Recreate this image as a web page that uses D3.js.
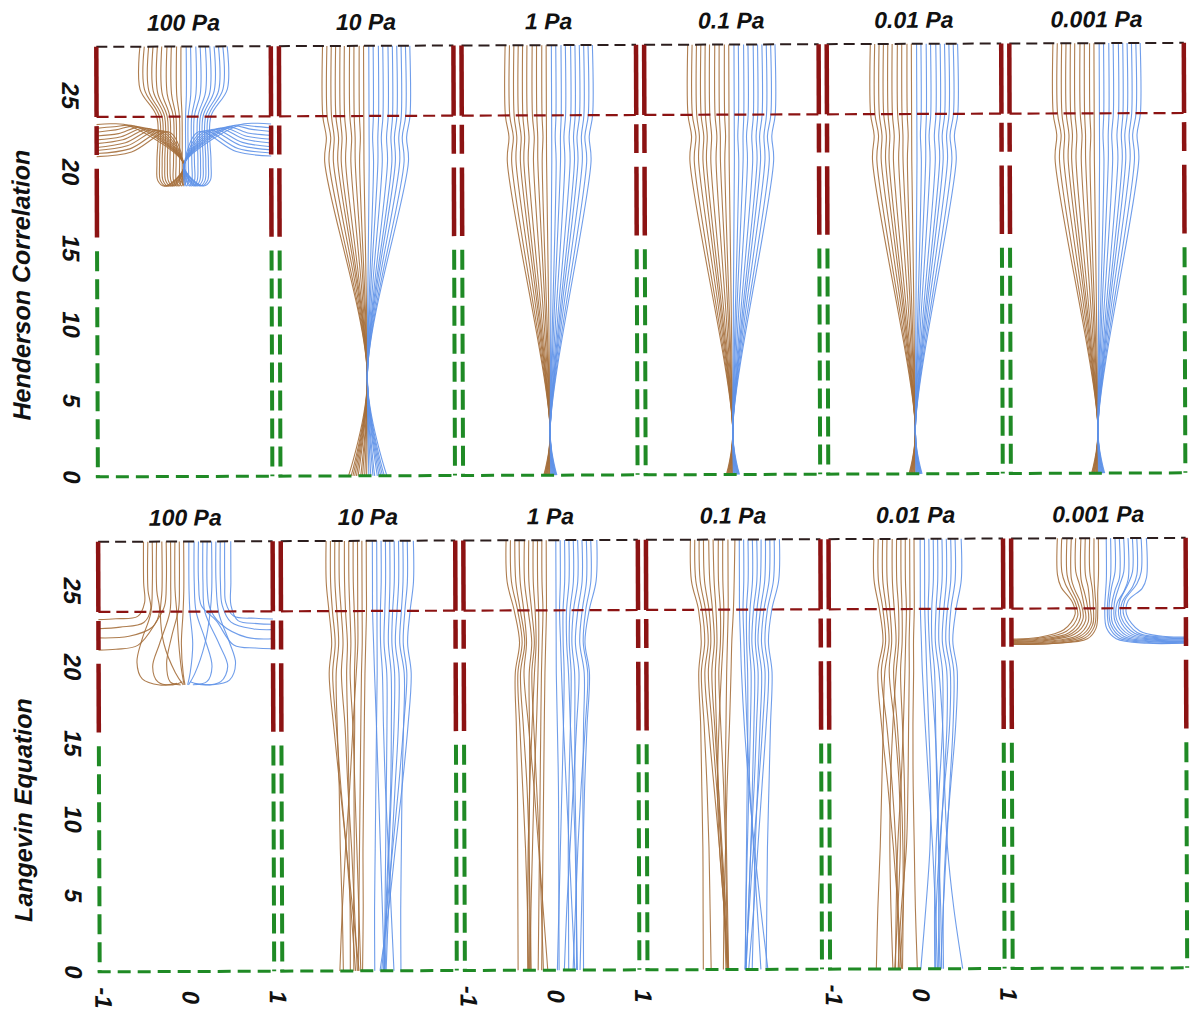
<!DOCTYPE html>
<html lang="en">
<head>
<meta charset="UTF-8">
<script src="https://d3js.org/d3.v7.min.js"></script>
<title>Particle trajectories</title>
<style>
  body { margin: 0; background: #fff; }
  text { font-family: "Liberation Sans", Arial, sans-serif; font-weight: bold; font-style: italic; fill: #111; }
</style>
</head>
<body>
<div id="chart"></div>
<script>
// panel titles and axis labels
var stresses = ["100 Pa", "10 Pa", "1 Pa", "0.1 Pa", "0.01 Pa", "0.001 Pa"];
var rowLabels = ["Henderson Correlation", "Langevin Equation"];
var yTicks = [0, 5, 10, 15, 20, 25];
var xTicks = [-1, 0, 1];
var xTickCols = [0, 2, 4];

// channel geometry in y units
var yTop = 28.2, yBox = 23.6, yGreen = 14.8;
var redDashes = [[23.0, 21.1], [20.2, 15.7]];

// Henderson 100 Pa, flat [x, y, x, y, ...]
var hen100Brown = [
  [-0.50,28.2, -0.50,25.4, -0.31,23.6, -0.31,20.6, -0.30,19.4, -0.22,19.05, 0,20.4, -0.62,23.0, -0.82,23.15, -1,23.1],
  [-0.45,28.2, -0.45,25.4, -0.28,23.6, -0.28,20.6, -0.27,19.4, -0.20,19.05, 0,20.4, -0.57,23.0, -0.80,22.95, -1,22.85],
  [-0.40,28.2, -0.40,25.3, -0.25,23.6, -0.25,20.6, -0.24,19.4, -0.18,19.05, 0,20.4, -0.52,22.95, -0.78,22.75, -1,22.6],
  [-0.35,28.2, -0.35,25.3, -0.22,23.6, -0.22,20.6, -0.21,19.4, -0.15,19.05, 0,20.4, -0.47,22.9, -0.75,22.5, -1,22.35],
  [-0.30,28.2, -0.30,25.2, -0.19,23.6, -0.19,20.6, -0.18,19.4, -0.13,19.05, 0,20.4, -0.42,22.85, -0.72,22.3, -1,22.1],
  [-0.25,28.2, -0.25,25.2, -0.16,23.6, -0.16,20.6, -0.15,19.4, -0.11,19.05, 0,20.4, -0.37,22.8, -0.70,22.1, -1,21.85],
  [-0.19,28.2, -0.19,25.1, -0.12,23.6, -0.12,20.6, -0.12,19.4, -0.08,19.05, 0,20.4, -0.32,22.75, -0.67,21.9, -1,21.6],
  [-0.14,28.2, -0.14,25.1, -0.09,23.6, -0.09,20.6, -0.09,19.4, -0.06,19.05, 0,20.4, -0.27,22.7, -0.65,21.7, -1,21.4],
  [-0.08,28.2, -0.08,25.0, -0.05,23.6, -0.05,20.6, -0.05,19.4, -0.03,19.05, 0,20.4, -0.22,22.65, -0.62,21.5, -1,21.2],
  [-0.03,28.2, -0.03,25.0, -0.02,23.6, -0.02,20.6, -0.02,19.4, -0.01,19.05, 0,20.4, -0.17,22.6, -0.60,21.3, -1,21.0]
];
var hen100Blue = [
  [0.03,28.2, 0.03,25.0, 0.02,23.6, 0.02,20.6, 0.02,19.4, 0.01,19.05, 0,20.4, 0.17,22.6, 0.60,21.3, 1,21.0],
  [0.08,28.2, 0.08,25.0, 0.05,23.6, 0.05,20.6, 0.05,19.4, 0.03,19.05, 0,20.4, 0.22,22.65, 0.62,21.5, 1,21.2],
  [0.14,28.2, 0.14,25.1, 0.09,23.6, 0.09,20.6, 0.09,19.4, 0.06,19.05, 0,20.4, 0.27,22.7, 0.65,21.7, 1,21.4],
  [0.19,28.2, 0.19,25.1, 0.12,23.6, 0.12,20.6, 0.12,19.4, 0.08,19.05, 0,20.4, 0.32,22.75, 0.67,21.9, 1,21.6],
  [0.25,28.2, 0.25,25.2, 0.16,23.6, 0.16,20.6, 0.15,19.4, 0.11,19.05, 0,20.4, 0.37,22.8, 0.70,22.1, 1,21.85],
  [0.30,28.2, 0.30,25.2, 0.19,23.6, 0.19,20.6, 0.18,19.4, 0.13,19.05, 0,20.4, 0.42,22.85, 0.72,22.3, 1,22.1],
  [0.35,28.2, 0.35,25.3, 0.22,23.6, 0.22,20.6, 0.21,19.4, 0.15,19.05, 0,20.4, 0.47,22.9, 0.75,22.5, 1,22.35],
  [0.40,28.2, 0.40,25.3, 0.25,23.6, 0.25,20.6, 0.24,19.4, 0.18,19.05, 0,20.4, 0.52,22.95, 0.78,22.75, 1,22.6],
  [0.45,28.2, 0.45,25.4, 0.28,23.6, 0.28,20.6, 0.27,19.4, 0.20,19.05, 0,20.4, 0.57,23.0, 0.80,22.95, 1,22.85],
  [0.50,28.2, 0.50,25.4, 0.31,23.6, 0.31,20.6, 0.30,19.4, 0.22,19.05, 0,20.4, 0.62,23.0, 0.82,23.15, 1,23.1]
];

// Henderson fans: x read at fixed y levels
var henLevels10 = [28.2, 23.6, 22.2, 20.6, 6.4, 0];
var henLevelsLow = [28.2, 23.6, 22.2, 20.6, 2.8, 0];
var hen10Brown = [
  [-0.50,-0.50,-0.46,-0.48,0,-0.22], [-0.45,-0.45,-0.41,-0.43,0,-0.19],
  [-0.40,-0.40,-0.37,-0.38,0,-0.17], [-0.35,-0.35,-0.32,-0.33,0,-0.15],
  [-0.30,-0.30,-0.28,-0.29,0,-0.13], [-0.25,-0.25,-0.23,-0.24,0,-0.11],
  [-0.19,-0.19,-0.17,-0.18,0,-0.08], [-0.14,-0.14,-0.13,-0.13,0,-0.06],
  [-0.08,-0.08,-0.07,-0.08,0,-0.035], [-0.03,-0.03,-0.03,-0.03,0,-0.013]
];
var hen10Blue = [
  [0.03,0.03,0.03,0.03,0,0.013], [0.08,0.08,0.07,0.08,0,0.035],
  [0.14,0.14,0.13,0.13,0,0.06], [0.19,0.19,0.17,0.18,0,0.08],
  [0.25,0.25,0.23,0.24,0,0.11], [0.30,0.30,0.28,0.29,0,0.13],
  [0.35,0.35,0.32,0.33,0,0.15], [0.40,0.40,0.37,0.38,0,0.17],
  [0.45,0.45,0.41,0.43,0,0.19], [0.50,0.50,0.46,0.48,0,0.22]
];
var henLowBrown = [
  [-0.50,-0.50,-0.46,-0.48,0,-0.075], [-0.45,-0.45,-0.41,-0.43,0,-0.067],
  [-0.40,-0.40,-0.37,-0.38,0,-0.059], [-0.35,-0.35,-0.32,-0.33,0,-0.052],
  [-0.30,-0.30,-0.28,-0.29,0,-0.045], [-0.25,-0.25,-0.23,-0.24,0,-0.037],
  [-0.19,-0.19,-0.17,-0.18,0,-0.028], [-0.14,-0.14,-0.13,-0.13,0,-0.020],
  [-0.08,-0.08,-0.07,-0.08,0,-0.012], [-0.03,-0.03,-0.03,-0.03,0,-0.005]
];
var henLowBlue = [
  [0.03,0.03,0.03,0.03,0,0.005], [0.08,0.08,0.07,0.08,0,0.012],
  [0.14,0.14,0.13,0.13,0,0.020], [0.19,0.19,0.17,0.18,0,0.028],
  [0.25,0.25,0.23,0.24,0,0.037], [0.30,0.30,0.28,0.29,0,0.045],
  [0.35,0.35,0.32,0.33,0,0.052], [0.40,0.40,0.37,0.38,0,0.059],
  [0.45,0.45,0.41,0.43,0,0.067], [0.50,0.50,0.46,0.48,0,0.075]
];

// Langevin 10 Pa .. 0.01 Pa: x read at fixed y levels
var lanLevels = [28.2, 25.5, 23.6, 21.5, 19.5, 16, 12, 8, 4, 0];
var lan10Brown = [
  [-0.48,-0.48,-0.45,-0.42,-0.45,-0.40,-0.33,-0.26,-0.19,-0.12],
  [-0.43,-0.43,-0.41,-0.38,-0.41,-0.37,-0.32,-0.26,-0.21,-0.16],
  [-0.38,-0.38,-0.36,-0.34,-0.37,-0.36,-0.34,-0.33,-0.31,-0.30],
  [-0.33,-0.33,-0.31,-0.29,-0.31,-0.27,-0.24,-0.20,-0.17,-0.14],
  [-0.27,-0.27,-0.26,-0.24,-0.25,-0.24,-0.23,-0.23,-0.22,-0.22],
  [-0.22,-0.22,-0.21,-0.20,-0.21,-0.18,-0.16,-0.14,-0.12,-0.10],
  [-0.17,-0.17,-0.16,-0.15,-0.16,-0.16,-0.17,-0.17,-0.18,-0.18],
  [-0.12,-0.12,-0.12,-0.12,-0.14,-0.18,-0.22,-0.27,-0.31,-0.34],
  [-0.07,-0.07,-0.07,-0.07,-0.08,-0.09,-0.10,-0.11,-0.12,-0.13],
  [-0.02,-0.02,-0.02,-0.03,-0.04,-0.05,-0.06,-0.07,-0.07,-0.08]
];
var lan10Blue = [
  [0.05,0.05,0.05,0.06,0.07,0.09,0.11,0.13,0.15,0.17],
  [0.10,0.10,0.10,0.10,0.10,0.09,0.08,0.07,0.06,0.06],
  [0.15,0.15,0.14,0.14,0.16,0.17,0.19,0.22,0.25,0.28],
  [0.20,0.20,0.19,0.18,0.21,0.21,0.20,0.19,0.18,0.17],
  [0.25,0.25,0.24,0.23,0.26,0.26,0.25,0.22,0.19,0.16],
  [0.30,0.30,0.28,0.27,0.30,0.29,0.26,0.23,0.20,0.18],
  [0.35,0.35,0.33,0.31,0.35,0.34,0.30,0.26,0.22,0.19],
  [0.40,0.40,0.38,0.36,0.41,0.40,0.38,0.37,0.36,0.36],
  [0.45,0.45,0.42,0.40,0.44,0.40,0.34,0.27,0.20,0.14],
  [0.52,0.52,0.48,0.45,0.49,0.45,0.38,0.30,0.22,0.12]
];
var lan1Brown = [
  [-0.51,-0.50,-0.42,-0.36,-0.41,-0.40,-0.39,-0.39,-0.39,-0.39],
  [-0.46,-0.45,-0.38,-0.33,-0.38,-0.36,-0.33,-0.30,-0.28,-0.27],
  [-0.41,-0.40,-0.35,-0.30,-0.35,-0.32,-0.28,-0.26,-0.25,-0.24],
  [-0.36,-0.35,-0.31,-0.28,-0.31,-0.26,-0.20,-0.15,-0.10,-0.05],
  [-0.30,-0.30,-0.26,-0.22,-0.25,-0.25,-0.25,-0.26,-0.26,-0.26],
  [-0.25,-0.25,-0.22,-0.19,-0.22,-0.20,-0.17,-0.14,-0.12,-0.10],
  [-0.20,-0.20,-0.18,-0.17,-0.19,-0.22,-0.25,-0.27,-0.28,-0.28],
  [-0.15,-0.15,-0.14,-0.14,-0.15,-0.17,-0.20,-0.22,-0.24,-0.25],
  [-0.10,-0.10,-0.09,-0.10,-0.11,-0.12,-0.13,-0.14,-0.15,-0.16],
  [-0.05,-0.05,-0.05,-0.06,-0.07,-0.08,-0.09,-0.10,-0.11,-0.12]
];
var lan1Blue = [
  [0.06,0.06,0.06,0.06,0.06,0.07,0.08,0.08,0.08,0.08],
  [0.11,0.11,0.10,0.11,0.12,0.14,0.17,0.20,0.23,0.26],
  [0.16,0.16,0.14,0.14,0.15,0.14,0.12,0.10,0.08,0.06],
  [0.21,0.21,0.18,0.18,0.20,0.22,0.25,0.27,0.28,0.29],
  [0.26,0.26,0.22,0.21,0.23,0.22,0.20,0.19,0.19,0.19],
  [0.31,0.31,0.26,0.24,0.27,0.27,0.27,0.28,0.28,0.28],
  [0.36,0.36,0.31,0.28,0.32,0.29,0.25,0.21,0.17,0.14],
  [0.41,0.41,0.36,0.33,0.38,0.37,0.36,0.36,0.36,0.36],
  [0.46,0.46,0.40,0.37,0.42,0.39,0.34,0.30,0.27,0.24],
  [0.53,0.52,0.44,0.39,0.44,0.41,0.38,0.36,0.34,0.32]
];
var lan01Brown = [
  [-0.49,-0.48,-0.40,-0.37,-0.40,-0.38,-0.37,-0.36,-0.36,-0.36],
  [-0.44,-0.43,-0.36,-0.33,-0.37,-0.34,-0.31,-0.29,-0.28,-0.27],
  [-0.39,-0.38,-0.32,-0.29,-0.33,-0.29,-0.23,-0.17,-0.12,-0.08],
  [-0.34,-0.33,-0.28,-0.26,-0.29,-0.25,-0.20,-0.15,-0.11,-0.09],
  [-0.28,-0.27,-0.24,-0.22,-0.25,-0.22,-0.18,-0.14,-0.10,-0.07],
  [-0.23,-0.22,-0.20,-0.19,-0.21,-0.20,-0.18,-0.15,-0.12,-0.10],
  [-0.17,-0.17,-0.15,-0.15,-0.17,-0.15,-0.12,-0.10,-0.09,-0.08],
  [-0.12,-0.12,-0.11,-0.12,-0.14,-0.17,-0.19,-0.17,-0.12,-0.08],
  [-0.06,-0.06,-0.06,-0.07,-0.08,-0.09,-0.10,-0.09,-0.08,-0.07],
  [0.02,0.01,0.00,-0.02,-0.03,-0.05,-0.08,-0.10,-0.12,-0.13]
];
var lan01Blue = [
  [0.07,0.07,0.07,0.08,0.09,0.12,0.17,0.23,0.30,0.38],
  [0.12,0.12,0.11,0.12,0.13,0.15,0.18,0.22,0.26,0.30],
  [0.17,0.17,0.15,0.15,0.16,0.16,0.15,0.14,0.13,0.12],
  [0.22,0.22,0.19,0.18,0.20,0.19,0.17,0.15,0.13,0.12],
  [0.27,0.27,0.23,0.21,0.24,0.23,0.21,0.19,0.16,0.13],
  [0.32,0.31,0.27,0.25,0.28,0.26,0.23,0.19,0.16,0.13],
  [0.37,0.36,0.31,0.28,0.32,0.30,0.27,0.24,0.22,0.20],
  [0.42,0.41,0.35,0.32,0.36,0.33,0.28,0.22,0.17,0.12],
  [0.47,0.46,0.39,0.36,0.40,0.37,0.32,0.27,0.22,0.16],
  [0.53,0.52,0.44,0.40,0.44,0.42,0.40,0.38,0.37,0.36]
];
var lan001Brown = [
  [-0.48,-0.48,-0.42,-0.38,-0.44,-0.40,-0.33,-0.27,-0.22,-0.18],
  [-0.43,-0.43,-0.38,-0.35,-0.40,-0.34,-0.28,-0.24,-0.22,-0.21],
  [-0.38,-0.38,-0.34,-0.31,-0.36,-0.38,-0.40,-0.42,-0.45,-0.47],
  [-0.33,-0.33,-0.30,-0.28,-0.31,-0.25,-0.20,-0.19,-0.22,-0.26],
  [-0.27,-0.27,-0.25,-0.23,-0.26,-0.22,-0.18,-0.16,-0.16,-0.17],
  [-0.22,-0.22,-0.20,-0.20,-0.23,-0.27,-0.30,-0.31,-0.30,-0.28],
  [-0.17,-0.17,-0.16,-0.16,-0.18,-0.16,-0.14,-0.14,-0.16,-0.20],
  [-0.12,-0.12,-0.11,-0.12,-0.13,-0.15,-0.18,-0.22,-0.24,-0.25],
  [-0.07,-0.07,-0.07,-0.08,-0.08,-0.09,-0.10,-0.12,-0.18,-0.22],
  [-0.02,-0.02,-0.02,-0.03,-0.03,-0.04,-0.04,-0.03,-0.02,0.00]
];
var lan001Blue = [
  [0.05,0.05,0.05,0.06,0.07,0.10,0.14,0.18,0.21,0.23],
  [0.10,0.10,0.10,0.11,0.12,0.14,0.16,0.15,0.10,0.04],
  [0.15,0.15,0.14,0.15,0.17,0.21,0.24,0.25,0.25,0.24],
  [0.20,0.20,0.18,0.18,0.21,0.22,0.23,0.25,0.27,0.28],
  [0.25,0.25,0.23,0.22,0.26,0.30,0.32,0.35,0.42,0.52],
  [0.30,0.30,0.27,0.26,0.30,0.30,0.26,0.22,0.20,0.20],
  [0.35,0.35,0.32,0.30,0.35,0.35,0.31,0.27,0.25,0.26],
  [0.40,0.40,0.36,0.34,0.39,0.38,0.32,0.26,0.22,0.21],
  [0.45,0.45,0.40,0.38,0.43,0.42,0.38,0.34,0.30,0.27],
  [0.52,0.52,0.46,0.42,0.47,0.45,0.39,0.33,0.30,0.30]
];

// Langevin 100 Pa and 0.001 Pa, flat [x, y, ...]
var lan100Brown = [
  [-0.48,28.2, -0.48,25.5, -0.47,24.2, -0.55,23.3, -0.80,23.15, -1,23.1],
  [-0.43,28.2, -0.43,25.0, -0.40,23.8, -0.48,22.9, -0.75,22.6, -1,22.5],
  [-0.38,28.2, -0.38,25.5, -0.40,23.5, -0.50,21.8, -0.56,20.3, -0.50,19.2, -0.30,18.8, -0.10,18.9],
  [-0.33,28.2, -0.33,25.0, -0.30,23.6, -0.38,22.6, -0.65,22.0, -1,21.9],
  [-0.27,28.2, -0.27,25.0, -0.29,23.5, -0.25,21.5, -0.12,19.6, -0.03,18.8],
  [-0.22,28.2, -0.22,25.5, -0.24,24.0, -0.33,23.0, -0.55,21.4, -0.80,21.15, -1,21.1],
  [-0.17,28.2, -0.17,25.5, -0.18,23.6, -0.30,21.5, -0.38,20.0, -0.32,19.0, -0.15,18.8, -0.04,19.0],
  [-0.12,28.2, -0.12,25.0, -0.10,23.5, -0.08,21.5, -0.05,19.8, -0.02,18.8],
  [-0.07,28.2, -0.07,25.5, -0.08,23.8, -0.16,22.0, -0.22,20.2, -0.18,19.0, -0.06,18.8],
  [-0.02,28.2, -0.02,25.0, -0.03,23.5, -0.05,21.5, -0.03,19.5, -0.01,18.8]
];
var lan100Blue = [
  [0.04,28.2, 0.04,25.0, 0.05,23.5, 0.08,21.5, 0.05,19.6, 0.02,18.8],
  [0.10,28.2, 0.10,25.5, 0.12,23.6, 0.22,21.8, 0.30,20.0, 0.24,19.0, 0.08,18.8],
  [0.15,28.2, 0.15,25.5, 0.18,24.0, 0.35,23.0, 0.55,21.4, 0.80,21.2, 1,21.15],
  [0.20,28.2, 0.20,25.5, 0.22,23.6, 0.38,21.5, 0.48,20.0, 0.40,19.0, 0.18,18.8, 0.05,19.0],
  [0.25,28.2, 0.25,25.0, 0.28,23.8, 0.40,22.8, 0.70,21.9, 1,21.8],
  [0.30,28.2, 0.30,25.0, 0.28,23.5, 0.22,21.5, 0.10,19.5, 0.03,18.8],
  [0.35,28.2, 0.35,25.5, 0.38,23.5, 0.50,21.6, 0.57,20.2, 0.50,19.1, 0.30,18.8, 0.10,18.9],
  [0.40,28.2, 0.40,25.5, 0.42,24.0, 0.52,22.9, 0.78,22.45, 1,22.4],
  [0.45,28.2, 0.45,25.5, 0.46,24.2, 0.55,23.3, 0.80,23.15, 1,23.1],
  [0.52,28.2, 0.52,25.5, 0.52,24.0, 0.60,23.0, 0.82,22.8, 1,22.75]
];
var lan0001Brown = [
  [-0.47,28.2, -0.47,25.8, -0.43,25.0, -0.30,24.0, -0.27,23.2, -0.40,22.2, -0.70,21.7, -1,21.6],
  [-0.42,28.2, -0.42,26.0, -0.38,25.2, -0.27,24.0, -0.24,23.1, -0.37,22.1, -0.68,21.65, -1,21.55],
  [-0.36,28.2, -0.36,25.8, -0.32,25.0, -0.24,24.0, -0.21,23.0, -0.34,22.0, -0.66,21.6, -1,21.5],
  [-0.31,28.2, -0.31,25.5, -0.27,24.8, -0.20,23.9, -0.18,22.9, -0.31,21.95, -0.64,21.55, -1,21.45],
  [-0.26,28.2, -0.26,26.0, -0.22,25.2, -0.17,23.9, -0.15,22.8, -0.28,21.9, -0.62,21.5, -1,21.4],
  [-0.20,28.2, -0.20,25.5, -0.16,24.6, -0.13,23.8, -0.12,22.7, -0.25,21.8, -0.60,21.45, -1,21.4],
  [-0.15,28.2, -0.15,25.8, -0.12,25.0, -0.10,23.8, -0.09,22.6, -0.22,21.75, -0.58,21.4, -1,21.35],
  [-0.10,28.2, -0.10,26.0, -0.07,24.8, -0.06,23.7, -0.07,22.5, -0.19,21.7, -0.56,21.35, -1,21.3],
  [-0.05,28.2, -0.05,25.5, -0.04,24.5, -0.03,23.6, -0.05,22.4, -0.16,21.65, -0.54,21.3, -1,21.3],
  [0.00,28.2, 0.00,25.8, -0.01,24.6, -0.01,23.5, -0.03,22.3, -0.13,21.6, -0.52,21.3, -1,21.25]
];
var lan0001Blue = [
  [0.09,28.2, 0.09,25.5, 0.08,24.6, 0.07,23.5, 0.09,22.3, 0.20,21.6, 0.55,21.3, 1,21.3],
  [0.14,28.2, 0.14,25.8, 0.12,24.8, 0.10,23.6, 0.12,22.4, 0.23,21.65, 0.57,21.35, 1,21.3],
  [0.19,28.2, 0.19,26.0, 0.15,25.0, 0.12,23.7, 0.14,22.5, 0.26,21.7, 0.59,21.4, 1,21.35],
  [0.24,28.2, 0.24,25.6, 0.19,24.8, 0.15,23.8, 0.16,22.6, 0.29,21.75, 0.61,21.45, 1,21.4],
  [0.29,28.2, 0.29,26.0, 0.24,25.1, 0.18,23.9, 0.19,22.7, 0.32,21.8, 0.63,21.5, 1,21.45],
  [0.34,28.2, 0.34,25.5, 0.29,24.7, 0.21,23.9, 0.21,22.8, 0.35,21.85, 0.65,21.55, 1,21.5],
  [0.39,28.2, 0.39,26.0, 0.34,25.2, 0.24,24.0, 0.24,22.9, 0.38,21.9, 0.67,21.6, 1,21.55],
  [0.44,28.2, 0.44,25.8, 0.39,25.0, 0.27,24.0, 0.26,23.0, 0.41,21.95, 0.69,21.65, 1,21.6],
  [0.49,28.2, 0.49,26.0, 0.44,25.2, 0.30,24.1, 0.29,23.1, 0.44,22.0, 0.71,21.7, 1,21.65],
  [0.55,28.2, 0.55,25.6, 0.50,24.9, 0.34,24.1, 0.32,23.2, 0.47,22.1, 0.73,21.75, 1,21.7]
];

// ---------------------------------------------------------------
var width = 1192, height = 1018;
var left0 = 98, step = 182.6, panelW = 174.5;
var rowZero = [475, 970];   // pixel of y = 0 in each row
var rowTopPx = [45, 540];   // pixel of y = yTop
var red = "#8c1313", green = "#1f8a25", brown = "#a56f3c", blue = "#5f92e8";

function pairs(flat) {
    var out = [];
    for (var i = 0; i < flat.length; i += 2) out.push([flat[i], flat[i + 1]]);
    return out;
}
function onLevels(levels) {
    return function(xsArr) { return xsArr.map((x, i) => [x, levels[i]]); };
}

var rows = [
    [
        {brown: hen100Brown.map(pairs), blue: hen100Blue.map(pairs)},
        {brown: hen10Brown.map(onLevels(henLevels10)), blue: hen10Blue.map(onLevels(henLevels10))},
        {brown: henLowBrown.map(onLevels(henLevelsLow)), blue: henLowBlue.map(onLevels(henLevelsLow))},
        {brown: henLowBrown.map(onLevels(henLevelsLow)), blue: henLowBlue.map(onLevels(henLevelsLow))},
        {brown: henLowBrown.map(onLevels(henLevelsLow)), blue: henLowBlue.map(onLevels(henLevelsLow))},
        {brown: henLowBrown.map(onLevels(henLevelsLow)), blue: henLowBlue.map(onLevels(henLevelsLow))}
    ],
    [
        {brown: lan100Brown.map(pairs), blue: lan100Blue.map(pairs)},
        {brown: lan10Brown.map(onLevels(lanLevels)), blue: lan10Blue.map(onLevels(lanLevels))},
        {brown: lan1Brown.map(onLevels(lanLevels)), blue: lan1Blue.map(onLevels(lanLevels))},
        {brown: lan01Brown.map(onLevels(lanLevels)), blue: lan01Blue.map(onLevels(lanLevels))},
        {brown: lan001Brown.map(onLevels(lanLevels)), blue: lan001Blue.map(onLevels(lanLevels))},
        {brown: lan0001Brown.map(pairs), blue: lan0001Blue.map(pairs)}
    ]
];

var svg = d3.select('#chart')
            .append('svg')
            .attr('width', width)
            .attr('height', height);
svg.append("rect").attr("width", width).attr("height", height).attr("fill", "#fff");

// the original figure is very slightly tilted
var root = svg.append("g").attr("transform", "rotate(-0.21, 596, 509)");

function vline(g, x, y1, y2) {
    return g.append("line").attr("x1", x).attr("x2", x).attr("y1", y1).attr("y2", y2);
}
function hline(g, y, x1, x2) {
    return g.append("line").attr("x1", x1).attr("x2", x2).attr("y1", y).attr("y2", y);
}

function drawFrame(g, xs, ys) {
    var xl = xs(-1), xr = xs(1);
    hline(g, ys(yTop), xl, xr)
        .attr("stroke", "#2c1e1e").attr("stroke-width", 2).attr("stroke-dasharray", "11,6");
    hline(g, ys(yBox), xl, xr)
        .attr("stroke", red).attr("stroke-width", 2.2).attr("stroke-dasharray", "12,6");
    [xl, xr].forEach(x => {
        vline(g, x, ys(yTop), ys(yBox)).attr("stroke", red).attr("stroke-width", 4.5);
        redDashes.forEach(s => {
            vline(g, x, ys(s[0]), ys(s[1])).attr("stroke", red).attr("stroke-width", 4.5);
        });
        vline(g, x, ys(yGreen), ys(0))
            .attr("stroke", green).attr("stroke-width", 4).attr("stroke-dasharray", "20,8");
    });
    hline(g, ys(0), xl - 2, xr + 2)
        .attr("stroke", green).attr("stroke-width", 3).attr("stroke-dasharray", "13,7");
}

rows.forEach((row, r) => {
    var ys = d3.scaleLinear().domain([0, yTop]).range([rowZero[r], rowTopPx[r]]);

    row.forEach((panel, c) => {
        var x0 = left0 + c * step;
        var xs = d3.scaleLinear().domain([-1, 1]).range([x0, x0 + panelW]);
        var g = root.append("g").attr("class", "panel");
        var line = d3.line()
            .x(d => xs(d[0]))
            .y(d => ys(d[1]))
            .curve(d3.curveCatmullRom.alpha(0.5));

        g.selectAll(".brown").data(panel.brown).enter()
            .append("path").attr("class", "brown")
            .attr("d", line).attr("fill", "none")
            .attr("stroke", brown).attr("stroke-width", 1.1).attr("stroke-opacity", 0.9);
        g.selectAll(".blue").data(panel.blue).enter()
            .append("path").attr("class", "blue")
            .attr("d", line).attr("fill", "none")
            .attr("stroke", blue).attr("stroke-width", 1.1).attr("stroke-opacity", 0.9);

        drawFrame(g, xs, ys);

        g.append("text")
            .attr("x", xs(0)).attr("y", rowTopPx[r] - 16)
            .attr("text-anchor", "middle").attr("font-size", 23)
            .text(stresses[c]);

        if (r === 1 && xTickCols.indexOf(c) >= 0) {
            g.selectAll(".xtick").data(xTicks).enter()
                .append("text").attr("class", "xtick")
                .attr("transform", d => `translate(${xs(d) + 4}, 996) rotate(90)`)
                .attr("text-anchor", "middle").attr("dy", "0.35em").attr("font-size", 24)
                .text(d => d);
        }
    });

    root.selectAll(".ytick" + r).data(yTicks).enter()
        .append("text").attr("class", "ytick" + r)
        .attr("transform", d => `translate(72, ${ys(d)}) rotate(90)`)
        .attr("text-anchor", "middle").attr("dy", "0.35em").attr("font-size", 24)
        .text(d => d);

    root.append("text")
        .attr("transform", `translate(22, ${r === 0 ? 283 : 808}) rotate(-90)`)
        .attr("text-anchor", "middle").attr("dy", "0.35em").attr("font-size", 25)
        .text(rowLabels[r]);
});
</script>
</body>
</html>
